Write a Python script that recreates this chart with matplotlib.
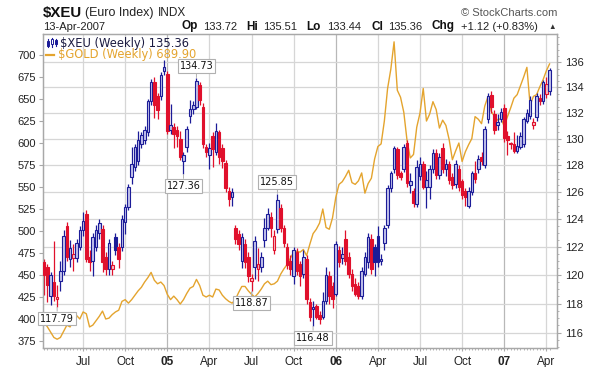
import numpy as np
import pandas as pd
import matplotlib
matplotlib.use("Agg")
import matplotlib.pyplot as plt
from matplotlib.patches import Rectangle
import matplotlib.transforms as mtransforms
import matplotlib.ticker as mticker

# ---------------- data ----------------
FIRST_WEEK = "2004-04-12"   # weekly bars, Monday dates

xeu_open = [120.9, 120.6, 118.5, 119.5, 118.3, 119.6, 120.3, 123.5, 121.1, 121.2,
            121.2, 122.0, 123.2, 124.4, 121.3, 121.0, 122.0, 123.0, 123.3, 121.3,
            120.4, 120.4, 122.7, 122.0, 122.0, 123.8, 124.9, 127.1, 127.9, 128.3,
            129.6, 129.9, 130.5, 132.9, 134.4, 133.3, 133.3, 135.3, 135.1, 130.7,
            130.9, 130.7, 130.0, 128.3, 129.4, 131.8, 132.3, 132.5, 134.2, 132.5,
            129.4, 128.8, 130.2, 129.0, 130.5, 129.3, 128.2, 126.1, 125.6, 123.4,
            122.9, 121.0, 122.2, 121.3, 119.6, 120.6, 120.4, 120.6, 122.5, 123.4,
            124.2, 121.8, 123.3, 124.8, 123.4, 122.0, 121.0, 119.9, 121.6, 120.8,
            120.1, 121.1, 118.1, 117.6, 117.8, 117.2, 117.1, 118.2, 119.9, 119.2,
            118.7, 121.8, 121.2, 122.6, 121.3, 120.1, 119.4, 119.2, 118.5, 120.1,
            120.9, 122.6, 122.0, 122.8, 121.0, 122.3, 123.6, 126.3, 127.7, 129.2,
            127.4, 127.7, 129.7, 126.5, 126.1, 125.1, 127.2, 128.1, 126.4, 126.4,
            127.7, 128.9, 127.3, 129.3, 127.7, 128.1, 127.1, 126.6, 127.7, 126.8,
            126.1, 125.0, 126.0, 127.4, 127.7, 128.6, 128.0, 131.5, 133.4, 131.9,
            131.1, 131.5, 132.4, 130.2, 129.6, 129.6, 129.1, 129.4, 129.6, 131.4,
            131.8, 131.1, 131.7, 133.2, 132.9, 133.5, 133.72]
xeu_high = [121.1, 120.8, 120.2, 122.4, 119.3, 121.0, 123.2, 123.8, 122.5, 122.2,
            122.6, 123.5, 124.5, 124.7, 121.8, 123.0, 123.6, 124.0, 123.6, 121.6,
            122.6, 121.0, 123.0, 122.3, 124.3, 125.1, 126.6, 129.4, 129.6, 130.6,
            130.5, 131.0, 133.1, 134.7, 134.8, 133.6, 135.2, 136.2, 135.3, 132.7,
            131.2, 131.0, 130.6, 129.0, 131.0, 133.0, 132.9, 134.73, 134.4, 132.8,
            129.6, 129.7, 130.5, 131.2, 130.7, 129.6, 128.4, 126.4, 126.3, 123.6,
            123.2, 123.0, 122.6, 121.6, 120.1, 122.8, 121.9, 121.6, 124.1, 124.8,
            124.5, 123.2, 125.85, 125.1, 123.6, 122.3, 121.4, 122.0, 121.9, 121.0,
            121.8, 121.4, 118.4, 118.2, 118.0, 117.5, 118.8, 120.6, 120.3, 119.5,
            122.4, 122.1, 122.0, 123.2, 121.6, 120.4, 119.8, 119.5, 120.6, 121.6,
            123.0, 122.9, 122.2, 123.5, 121.5, 123.6, 126.5, 127.6, 129.5, 129.4,
            127.6, 129.6, 129.9, 127.4, 126.3, 128.4, 128.6, 128.3, 127.6, 128.0,
            129.2, 129.2, 128.9, 129.7, 128.5, 128.3, 127.4, 128.4, 128.0, 127.0,
            126.3, 126.4, 127.6, 128.3, 128.8, 129.0, 131.0, 133.6, 133.7, 132.2,
            131.9, 132.4, 132.7, 130.6, 129.8, 130.5, 130.3, 130.5, 131.7, 132.3,
            133.3, 131.6, 133.6, 133.5, 134.6, 134.8, 135.51]
xeu_low = [118.6, 118.1, 117.9, 118.2, 117.79, 118.9, 120.0, 121.0, 120.6, 120.3,
           120.9, 121.8, 122.8, 120.9, 120.3, 119.9, 121.7, 122.6, 120.2, 120.0,
           120.0, 120.0, 121.4, 120.5, 121.7, 122.9, 124.7, 126.6, 127.6, 128.0,
           129.3, 129.6, 130.2, 132.6, 131.6, 131.5, 133.0, 135.0, 130.4, 130.4,
           129.3, 129.4, 128.4, 127.36, 129.0, 131.2, 131.9, 132.3, 132.6, 129.3,
           128.6, 127.7, 127.9, 128.8, 128.1, 127.8, 126.0, 125.0, 125.0, 122.2,
           121.8, 120.5, 120.5, 119.5, 118.87, 119.7, 119.6, 120.2, 122.0, 123.2,
           122.7, 121.5, 123.0, 123.1, 122.0, 120.4, 120.0, 119.4, 120.0, 119.2,
           119.8, 118.0, 116.8, 116.48, 116.9, 116.6, 116.9, 118.0, 118.0, 117.7,
           118.5, 120.6, 120.8, 120.7, 119.8, 118.9, 118.5, 118.3, 118.3, 119.9,
           120.5, 120.1, 119.9, 120.6, 120.7, 121.8, 123.4, 126.0, 127.4, 127.0,
           126.9, 127.5, 126.4, 125.9, 124.9, 124.9, 126.9, 126.2, 124.8, 125.5,
           127.4, 127.0, 127.0, 127.4, 127.2, 126.6, 126.2, 126.3, 126.1, 125.5,
           125.0, 124.8, 125.8, 126.7, 127.4, 128.0, 127.8, 131.2, 132.0, 130.4,
           130.7, 131.3, 129.8, 128.8, 129.2, 128.9, 128.9, 129.2, 129.4, 131.2,
           131.5, 130.8, 131.4, 132.6, 132.7, 133.2, 133.44]
xeu_close = [120.0, 119.3, 120.0, 118.5, 118.45, 120.3, 122.8, 121.3, 121.9, 121.5,
             122.3, 123.2, 123.9, 121.1, 120.9, 122.7, 123.2, 123.7, 120.9, 120.4,
             122.3, 120.7, 121.8, 121.1, 124.0, 124.9, 126.4, 128.1, 129.4, 129.9,
             130.3, 130.7, 132.9, 134.4, 132.6, 132.2, 135.0, 135.6, 130.6, 131.1,
             130.4, 130.2, 128.6, 128.8, 130.8, 132.3, 132.6, 134.5, 133.0, 129.6,
             129.0, 129.3, 129.2, 130.6, 128.6, 128.3, 126.3, 125.5, 126.0, 122.6,
             122.2, 122.7, 120.9, 119.9, 119.8, 122.4, 120.8, 121.3, 123.4, 124.4,
             123.4, 122.8, 125.4, 123.4, 122.3, 120.7, 120.4, 121.8, 120.3, 119.9,
             121.3, 118.3, 117.1, 117.75, 117.1, 116.9, 118.2, 120.0, 118.5, 118.3,
             122.2, 120.9, 121.5, 121.0, 120.1, 119.2, 118.7, 118.5, 120.3, 121.3,
             122.7, 120.4, 120.9, 120.9, 121.1, 123.4, 126.3, 127.4, 129.3, 127.3,
             127.1, 129.4, 126.7, 126.8, 125.2, 127.9, 128.1, 126.4, 126.9, 127.7,
             128.9, 127.3, 128.6, 127.7, 128.1, 126.9, 126.5, 128.1, 126.4, 125.8,
             125.6, 126.1, 127.4, 127.0, 128.5, 128.3, 130.8, 133.3, 132.5, 130.7,
             131.3, 132.1, 130.1, 129.9, 129.7, 129.1, 129.5, 130.2, 131.5, 132.0,
             133.0, 131.3, 133.3, 132.9, 134.4, 134.24, 135.36]
gold_close = [396, 391, 385, 379, 377, 379, 386, 393, 391, 399,
              404, 400, 408, 406, 391, 393, 398, 403, 409, 400,
              401, 405, 408, 410, 420, 422, 418, 422, 427, 432,
              436, 442, 447, 453, 444, 440, 442, 438, 428, 422,
              426, 422, 417, 422, 429, 435, 437, 445, 438, 427,
              425, 427, 425, 434, 433, 427, 423, 420, 418, 422,
              430, 437, 437, 432, 428, 425, 429, 434, 440, 443,
              439, 440, 443, 451, 457, 462, 469, 476, 477, 476,
              479, 472, 485, 497, 502, 509, 525, 504, 502, 515,
              538, 553, 556, 562, 569, 555, 553, 557, 566, 543,
              554, 560, 582, 596, 599, 625, 662, 684, 715, 660,
              652, 635, 603, 583, 587, 618, 634, 662, 625, 633,
              647, 638, 617, 626, 620, 604, 581, 591, 600, 579,
              590, 598, 605, 630, 627, 622, 642, 653, 636, 630,
              626, 628, 619, 630, 640, 651, 655, 665, 675, 686,
              643, 653, 655, 664, 672, 682, 689.90]

xeu_ticks = [116, 118, 120, 122, 124, 126, 128, 130, 132, 134, 136]
gold_ticks = [375, 400, 425, 450, 475, 500, 525, 550, 575, 600, 625, 650, 675, 700]
quarter_months = [1, 4, 7, 10]
label_at_high = [47, 72]
label_at_low = [4, 43, 64, 83]

header_values = {"Op": "133.72", "Hi": "135.51", "Lo": "133.44", "Cl": "135.36",
                 "Chg": "+1.12 (+0.83%)"}

# ---------------- figure ----------------
W, H = 600, 367
fig = plt.figure(figsize=(W / 100, H / 100), dpi=100)
L, R, T, B = 42.7, 556.7, 34.0, 347.5
ax_g = fig.add_axes([L / W, 1 - B / H, (R - L) / W, (B - T) / H])
ax_x = ax_g.twinx()

BLUE = "#1c1c98"
RED = "#e0102c"
GOLD = "#e4a42e"
GRID = "#d6d6d6"
YEARGRID = "#b8b8b8"
FRAME = "#a8a8a8"

n = len(xeu_close)
idx = np.arange(n)
weeks = pd.date_range(FIRST_WEEK, periods=n, freq="W-MON")

ax_x.set_yscale("log")
ax_x.set_ylim(114.99, 138.28)
ax_g.set_ylim(367.6, 723.9)
ax_g.set_xlim(-0.46, 158.2)

# quarter positions (first weekly bar of Jan/Apr/Jul/Oct)
qpos, qlab = [], []
for i in range(1, n):
    if weeks[i].month in quarter_months and weeks[i - 1].month != weeks[i].month:
        qpos.append(i)
        qlab.append(weeks[i].strftime("%y") if weeks[i].month == 1 else weeks[i].strftime("%b"))
for p, lab in zip(qpos, qlab):
    ax_g.axvline(p, color=YEARGRID if lab.isdigit() else GRID, lw=0.9, zorder=0)
blend = mtransforms.blended_transform_factory(ax_g.transAxes, ax_x.transData)
for v in xeu_ticks:
    ax_g.plot([0, 1], [v, v], color=GRID, lw=0.9, transform=blend, zorder=0)

# gold line
ax_g.plot(idx, gold_close, color=GOLD, lw=1.0, zorder=2)

# candles
o = np.array(xeu_open); h = np.array(xeu_high); lo = np.array(xeu_low); c = np.array(xeu_close)
prev = np.concatenate([[o[0]], c[:-1]])
edge = [BLUE if c[i] >= prev[i] else RED for i in range(n)]
face = []
for i in range(n):
    if c[i] >= o[i]:
        face.append("#c4c4ec" if edge[i] == BLUE else "#f6c0c8")
    else:
        face.append(edge[i])
ax_x.vlines(idx, lo, h, colors=edge, lw=0.9, zorder=2)
bottoms = np.minimum(o, c)
heights = np.maximum(np.abs(c - o), 0.05)
ax_x.bar(idx, heights, bottom=bottoms, width=0.8, color=face, edgecolor=edge,
         linewidth=0.8, zorder=3)

# value labels
box = dict(boxstyle="square,pad=0.2", fc="white", ec="#b0b0b0", lw=0.8)
for i in label_at_high:
    ax_x.annotate(f"{h[i]:.2f}", xy=(i, h[i]), xytext=(0, 8.6), textcoords="offset points",
                  ha="center", va="center", fontsize=7, family="DejaVu Sans", color="#111111",
                  bbox=box, arrowprops=dict(arrowstyle="-", color="#b0b0b0", lw=0.7,
                                            shrinkA=0, shrinkB=0.5), zorder=6)
for i in label_at_low:
    ax_x.annotate(f"{lo[i]:.2f}", xy=(i, lo[i]), xytext=(0, -8.6), textcoords="offset points",
                  ha="center", va="center", fontsize=7, family="DejaVu Sans", color="#111111",
                  bbox=box, arrowprops=dict(arrowstyle="-", color="#b0b0b0", lw=0.7,
                                            shrinkA=0, shrinkB=0.5), zorder=6)

# axes styling
for a in (ax_g, ax_x):
    for s in a.spines.values():
        s.set_color(FRAME)
        s.set_linewidth(0.9)
ax_x.yaxis.set_major_locator(mticker.FixedLocator(xeu_ticks))
ax_x.yaxis.set_major_formatter(mticker.FixedFormatter([str(t) for t in xeu_ticks]))
ax_x.yaxis.set_minor_locator(mticker.FixedLocator(np.arange(115, 138.5, 0.5)))
ax_x.yaxis.set_minor_formatter(mticker.NullFormatter())
ax_x.tick_params(axis="y", which="major", length=3, color=FRAME, pad=3,
                 labelsize=8, labelcolor="#222222")
ax_x.tick_params(axis="y", which="minor", length=1.5, color=FRAME)
ax_g.yaxis.set_major_locator(mticker.FixedLocator(gold_ticks))
ax_g.yaxis.set_major_formatter(mticker.FixedFormatter([str(t) for t in gold_ticks]))
ax_g.tick_params(axis="y", length=3, color=FRAME, pad=2, labelsize=8, labelcolor="#222222")
ax_g.set_xticks(qpos)
ax_g.set_xticklabels(qlab)
ax_g.xaxis.set_minor_locator(mticker.FixedLocator(idx))
ax_g.tick_params(axis="x", which="major", length=2, color=FRAME, pad=4, labelsize=8.5,
                 labelcolor="#222222")
ax_g.tick_params(axis="x", which="minor", length=1.5, color=FRAME)
for t in ax_g.get_xticklabels():
    t.set_family("Liberation Sans")
    if t.get_text().isdigit():
        t.set_fontweight("bold")
for t in ax_g.get_yticklabels() + ax_x.get_yticklabels():
    t.set_family("Liberation Sans")

# legend (inside plot, top-left)
def afr(xp, yp):
    return ((xp - L) / (R - L), (B - yp) / (B - T))

for k, (dx, yb, yt, hb, ht, hollow) in enumerate([(0, 38.5, 46.5, 40.5, 45.5, False),
                                                   (4, 38.0, 47.0, 39.5, 43.5, True),
                                                   (8, 39.0, 46.0, 40.0, 44.0, False)]):
    x0 = 47 + dx
    ax_x.plot([afr(x0 + 1, 0)[0]] * 2, [afr(0, yb)[1], afr(0, yt)[1]], color=BLUE, lw=0.8,
              transform=ax_x.transAxes, zorder=7, clip_on=False)
    ax_x.add_patch(Rectangle(afr(x0, ht), 2.2 / (R - L), (ht - hb) / (B - T),
                             transform=ax_x.transAxes, fc="white" if hollow else BLUE,
                             ec=BLUE, lw=0.7, zorder=7))
ax_x.text(*afr(60, 43), "$XEU (Weekly) 135.36", transform=ax_x.transAxes, fontsize=8.3,
          family="DejaVu Sans", color="#1a1a40", va="center", ha="left", zorder=7)
ax_x.plot([afr(46, 0)[0], afr(54, 0)[0]], [afr(0, 54.5)[1]] * 2, color=GOLD, lw=1.6,
          transform=ax_x.transAxes, zorder=7)
ax_x.text(*afr(57.5, 54.5), "$GOLD (Weekly) 689.90", transform=ax_x.transAxes, fontsize=8.3,
          family="DejaVu Sans", color=GOLD, va="center", ha="left", zorder=7)

# header texts
def ft(xp, yp, s, **kw):
    fig.text(xp / W, 1 - yp / H, s, va="baseline", family="Liberation Sans", **kw)

ft(43, 17, "$XEU", fontsize=10.8, fontweight="bold", color="#111111")
ft(85.5, 16, "(Euro Index)", fontsize=9, color="#222222")
ft(158, 16, "INDX", fontsize=8.5, color="#222222")
ft(43, 29.5, "13-Apr-2007", fontsize=8, color="#222222")
ft(181, 29.5, "Op", fontsize=8.5, fontweight="bold", color="#111111")
ft(203.5, 29.5, header_values["Op"], fontsize=8, color="#222222")
ft(246.5, 29.5, "Hi", fontsize=8.5, fontweight="bold", color="#111111")
ft(263, 29.5, header_values["Hi"], fontsize=8, color="#222222")
ft(306.5, 29.5, "Lo", fontsize=8.5, fontweight="bold", color="#111111")
ft(327, 29.5, header_values["Lo"], fontsize=8, color="#222222")
ft(371, 29.5, "Cl", fontsize=8.5, fontweight="bold", color="#111111")
ft(388, 29.5, header_values["Cl"], fontsize=8, color="#222222")
ft(432, 29.5, "Chg", fontsize=8.5, fontweight="bold", color="#111111")
ft(461, 29.5, header_values["Chg"], fontsize=8, color="#222222")
ft(548.5, 29.0, "\u25b2", fontsize=5.5, color="#333333")
ft(557, 16, "\u00a9 StockCharts.com", fontsize=8, color="#555555", ha="right")

fig.savefig("out.png", dpi=100)
